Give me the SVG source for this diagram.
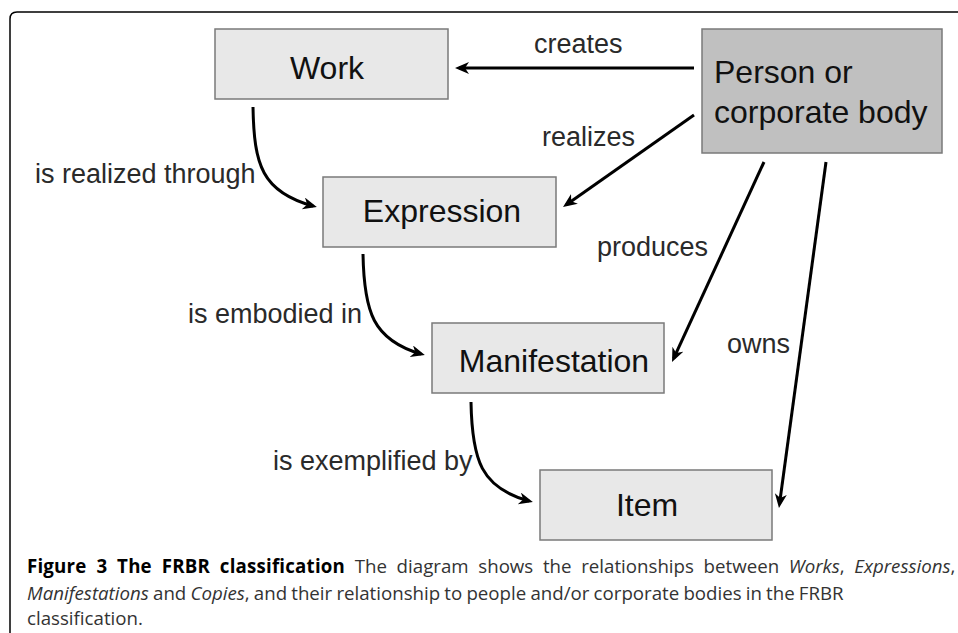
<svg xmlns="http://www.w3.org/2000/svg" width="958" height="633" viewBox="0 0 958 633">
<style>
.box{fill:#e8e8e8;stroke:#7a7a7a;stroke-width:1.5}
.dark{fill:#c0c0c0}
.nt{font-family:"Liberation Sans",Arial,sans-serif;font-size:32px;fill:#111}
.lb{font-family:"Liberation Sans",Arial,sans-serif;font-size:27px;fill:#2a2a2a}
.cn{fill:none;stroke:#000;stroke-width:3}
.cap{font-family:"Open Sans","Noto Sans",sans-serif;font-size:18.7px;fill:#333}
.b{font-weight:bold;fill:#000;letter-spacing:0.2px}
.i{font-style:italic}
</style>
<defs>
<marker id="ah" markerUnits="userSpaceOnUse" markerWidth="16" markerHeight="14" refX="10" refY="6" orient="auto" viewBox="0 0 16 14">
<path d="M0,0 L14,6 L0,12 L4,6 z" fill="#000"/>
</marker>
</defs>
<path d="M10,633 L10,19 Q10,12 17,12 L958,12" fill="none" stroke="#000" stroke-width="1.5"/>
<g id="connectors">
<path class="cn" marker-end="url(#ah)" d="M694,68 L459,68"/>
<path class="cn" marker-end="url(#ah)" d="M694,115 L566.3,204.7"/>
<path class="cn" marker-end="url(#ah)" d="M764,162 L673.7,358.4"/>
<path class="cn" marker-end="url(#ah)" d="M826,162 L779.5,504"/>
<path class="cn" marker-end="url(#ah)" d="M253,107 C254,165 262,192 313,206"/>
<path class="cn" marker-end="url(#ah)" d="M363,254 C364,312 373,340 421,354"/>
<path class="cn" marker-end="url(#ah)" d="M471,402 C472,460 481,488 529,501"/>
<text class="lb" x="534" y="53">creates</text>
<text class="lb" x="542" y="146">realizes</text>
<text class="lb" x="35" y="183">is realized through</text>
<text class="lb" x="597" y="256">produces</text>
<text class="lb" x="188" y="323">is embodied in</text>
<text class="lb" x="727" y="353">owns</text>
<text class="lb" x="273" y="470">is exemplified by</text>
</g>
<g id="work">
<rect class="box" x="215" y="29" width="233" height="70"/>
<text class="nt" x="327" y="79" text-anchor="middle">Work</text>
</g>
<g id="person">
<rect class="box dark" x="702" y="29" width="240" height="124"/>
<text class="nt" x="714" y="83">Person or</text>
<text class="nt" x="714" y="123">corporate body</text>
</g>
<g id="expression">
<rect class="box" x="323" y="177" width="233" height="70"/>
<text class="nt" x="442" y="222" text-anchor="middle">Expression</text>
</g>
<g id="manifestation">
<rect class="box" x="432" y="323" width="232" height="70"/>
<text class="nt" x="554" y="372" text-anchor="middle">Manifestation</text>
</g>
<g id="item">
<rect class="box" x="540" y="470" width="232" height="70"/>
<text class="nt" x="647" y="516" text-anchor="middle">Item</text>
</g>
<g id="caption">
<text class="cap" x="27" y="573" word-spacing="4.8"><tspan class="b">Figure 3 The FRBR classification</tspan> The diagram shows the relationships between <tspan class="i">Works</tspan>, <tspan class="i">Expressions</tspan>,</text>
<text class="cap" x="27" y="600" word-spacing="-0.7"><tspan class="i">Manifestations</tspan> and <tspan class="i">Copies</tspan>, and their relationship to people and/or corporate bodies in the FRBR</text>
<text class="cap" x="27" y="625">classification.</text>
</g>
</svg>
